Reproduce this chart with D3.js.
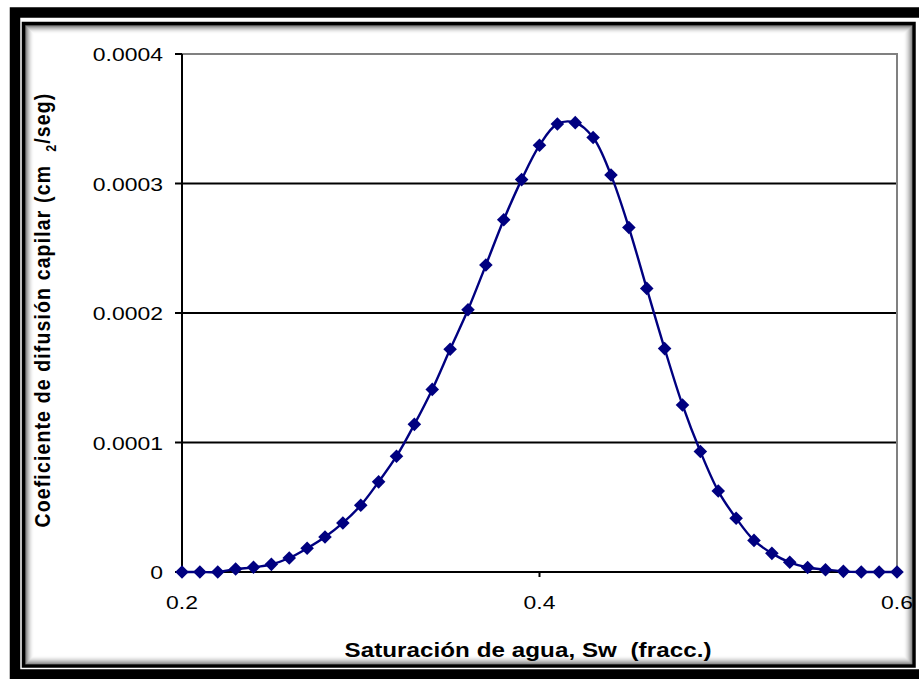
<!DOCTYPE html>
<html>
<head>
<meta charset="utf-8">
<script src="https://cdn.jsdelivr.net/npm/d3@7"></script>
<style>
  body { margin: 0; background: #fff; }
  svg { display: block; }
  text { font-family: "Liberation Sans", Arial, sans-serif; fill: #000; }
</style>
</head>
<body>
<div id="wrapper"></div>
<script>
// saturacion de agua (fracc.)
const sw = [0.20, 0.21, 0.22, 0.23, 0.24, 0.25, 0.26, 0.27, 0.28, 0.29,
            0.30, 0.31, 0.32, 0.33, 0.34, 0.35, 0.36, 0.37, 0.38, 0.39,
            0.40, 0.41, 0.42, 0.43, 0.44, 0.45, 0.46, 0.47, 0.48, 0.49,
            0.50, 0.51, 0.52, 0.53, 0.54, 0.55, 0.56, 0.57, 0.58, 0.59, 0.60];
// coeficiente de difusion capilar (cm2/seg)
const dc = [0, 0, 0, 0.0000023, 0.0000036, 0.0000059, 0.0000108, 0.0000183, 0.0000270, 0.0000379,
            0.0000515, 0.0000696, 0.0000894, 0.0001140, 0.0001410, 0.0001720, 0.0002025, 0.0002370, 0.0002720, 0.0003030,
            0.0003295, 0.0003460, 0.0003470, 0.0003355, 0.0003065, 0.0002660, 0.0002190, 0.0001725, 0.0001290, 0.0000930,
            0.0000625, 0.0000415, 0.0000244, 0.0000144, 0.0000075, 0.0000035, 0.0000018, 0.0000005, 0, 0, 0];

const xTicks = [0.2, 0.4, 0.6];
const yTicks = [0, 0.0001, 0.0002, 0.0003, 0.0004];
const xTickLabels = ['0.2', '0.4', '0.6'];
const yTickLabels = ['0', '0.0001', '0.0002', '0.0003', '0.0004'];

const data = sw.map((d, i) => ({ x: d, y: dc[i] }));

const W = 919, H = 679;
const stretch = 1.24; // the original picture is widened

const svg = d3.select('#wrapper').append('svg').attr('width', W).attr('height', H);

// outer frame
svg.append('rect')
  .attr('x', 15).attr('y', 12.5).attr('width', 920).attr('height', 662)
  .attr('fill', 'none').attr('stroke', '#000').attr('stroke-width', 10.5);

// inner shadow
for (let i = 0; i < 9; i++) {
  svg.append('rect')
    .attr('x', 25.5 + i).attr('y', 25.5 + i)
    .attr('width', 886.5 - 2 * i).attr('height', 638.5 - 2 * i)
    .attr('fill', 'none').attr('stroke', '#000')
    .attr('stroke-opacity', 0.55 * Math.pow(1 - i / 9, 2));
}
// inner frame line
svg.append('rect')
  .attr('x', 23.5).attr('y', 23.5).attr('width', 890.5).attr('height', 642.5)
  .attr('fill', 'none').attr('stroke', '#000').attr('stroke-width', 3.5);

const x = d3.scaleLinear().domain([0.2, 0.6]).range([182, 897]);
const y = d3.scaleLinear().domain([0, 0.0004]).range([572, 54]);

// gridlines
svg.append('g')
  .selectAll('line')
  .data(yTicks.filter(d => d > 0 && d < 0.0004))
  .enter()
  .append('line')
  .attr('x1', x(0.2)).attr('x2', x(0.6))
  .attr('y1', d => y(d)).attr('y2', d => y(d))
  .attr('stroke', '#000').attr('stroke-width', 2);

// plot border top / right (grey)
svg.append('path')
  .attr('d', `M${x(0.2)},${y(0.0004)}H${x(0.6)}V${y(0)}`)
  .attr('fill', 'none').attr('stroke', '#808080').attr('stroke-width', 2);

// axes
svg.append('line')
  .attr('x1', x(0.2)).attr('x2', x(0.2)).attr('y1', y(0.0004)).attr('y2', y(0) + 5)
  .attr('stroke', '#000').attr('stroke-width', 2);
svg.append('line')
  .attr('x1', x(0.2)).attr('x2', x(0.6)).attr('y1', y(0)).attr('y2', y(0))
  .attr('stroke', '#000').attr('stroke-width', 2);

svg.append('g')
  .selectAll('line')
  .data(yTicks)
  .enter()
  .append('line')
  .attr('x1', x(0.2) - 7).attr('x2', x(0.2))
  .attr('y1', d => y(d)).attr('y2', d => y(d))
  .attr('stroke', '#000').attr('stroke-width', 2);

svg.append('g')
  .selectAll('line')
  .data(xTicks)
  .enter()
  .append('line')
  .attr('x1', d => x(d)).attr('x2', d => x(d))
  .attr('y1', y(0)).attr('y2', y(0) + 5)
  .attr('stroke', '#000').attr('stroke-width', 2);

// tick labels
svg.append('g')
  .selectAll('text')
  .data(yTicks)
  .enter()
  .append('text')
  .attr('transform', d => `translate(${x(0.2) - 19},${y(d) + 7}) scale(${stretch},1)`)
  .attr('text-anchor', 'end')
  .attr('font-size', 18.5)
  .text((d, i) => yTickLabels[i]);

svg.append('g')
  .selectAll('text')
  .data(xTicks)
  .enter()
  .append('text')
  .attr('transform', d => `translate(${x(d)},${609}) scale(${stretch},1)`)
  .attr('text-anchor', 'middle')
  .attr('font-size', 18.5)
  .text((d, i) => xTickLabels[i]);

// series
const line = d3.line()
  .x(d => x(d.x))
  .y(d => y(d.y))
  .curve(d3.curveCatmullRom);

svg.append('path')
  .datum(data)
  .attr('d', line)
  .attr('fill', 'none')
  .attr('stroke', '#000080')
  .attr('stroke-width', 2.4);

const diamond = d3.symbol().type(d3.symbolSquare).size(92);
svg.append('g')
  .selectAll('path')
  .data(data)
  .enter()
  .append('path')
  .attr('d', diamond)
  .attr('transform', d => `translate(${x(d.x)},${y(d.y)}) rotate(45)`)
  .attr('fill', '#000080');

// spread letters so the text fills a given length
function fit(sel, target) {
  const n = sel.text().length;
  const w = sel.node().getComputedTextLength();
  sel.attr('letter-spacing', (target - w) / n);
}

// x title
const xt = svg.append('text')
  .attr('transform', `translate(${528},${657}) scale(${stretch},1)`)
  .attr('text-anchor', 'middle')
  .attr('font-size', 19.5)
  .attr('font-weight', 'bold')
  .text('Saturación de agua, Sw  (fracc.)')
  .style('white-space', 'pre');
fit(xt, 367 / stretch);

// y title
const yt = svg.append('text')
  .attr('transform', `translate(${50},${310}) scale(1.15,1) rotate(-90)`)
  .attr('text-anchor', 'middle')
  .attr('font-size', 19.5)
  .attr('font-weight', 'bold')
  .style('white-space', 'pre');
yt.append('tspan').text('Coeficiente de difusión capilar (cm  ');
yt.append('tspan').attr('font-size', 12.5).attr('dy', 5).text('2');
yt.append('tspan').attr('dy', -5).text('/seg)');
fit(yt, 435);
</script>
</body>
</html>
